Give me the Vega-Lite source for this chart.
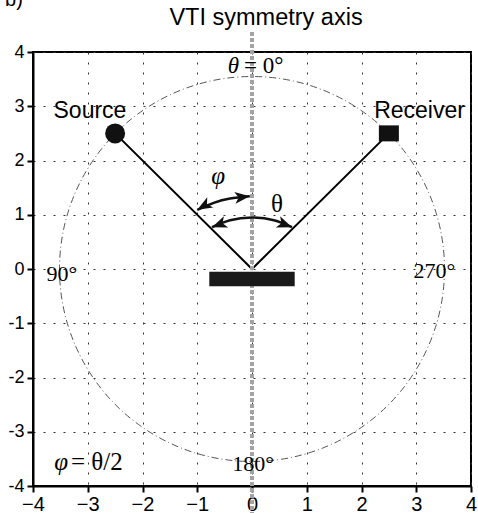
{
  "$schema": "https://vega.github.io/schema/vega-lite/v6.json",
  "width": 438,
  "height": 434,
  "autosize": {"type": "none"},
  "padding": {"left": 33, "top": 52, "right": 7, "bottom": 27},
  "background": "white",
  "config": {
    "view": {"stroke": "black", "strokeWidth": 2},
    "axis": {
      "title": null,
      "domainColor": "black",
      "domainWidth": 2,
      "tickColor": "black",
      "tickWidth": 2,
      "tickSize": 6,
      "labelColor": "black",
      "labelFont": "Liberation Sans",
      "labelFlush": false,
      "labelOverlap": false,
      "labelBound": false,
      "grid": true,
      "gridColor": "#333333",
      "gridWidth": 1,
      "gridDash": [2, 8],
      "gridOpacity": 1
    }
  },
  "datasets": {
    "origin": [{"x": 0, "y": 0}],
    "rays": [
      {"x": -2.5, "y": 2.5},
      {"x": 0, "y": 0},
      {"x": 2.5, "y": 2.5}
    ],
    "symmetry": [
      {"x": 0, "y": 4.37},
      {"x": 0, "y": -4.6}
    ],
    "source": [{"x": -2.5, "y": 2.5}],
    "receiver": [{"x": 2.5, "y": 2.5}],
    "reflector": [{"x": -0.78, "x2": 0.78, "y": -0.05, "y2": -0.32}],
    "phiArc": [
      {"x": -1.0, "y": 1.09},
      {"x": -0.7, "y": 1.22},
      {"x": -0.4, "y": 1.3},
      {"x": -0.04, "y": 1.34}
    ],
    "thetaArc": [
      {"x": -0.73, "y": 0.77},
      {"x": -0.4, "y": 0.9},
      {"x": 0, "y": 0.95},
      {"x": 0.4, "y": 0.9},
      {"x": 0.73, "y": 0.77}
    ]
  },
  "encoding": {
    "x": {
      "field": "x",
      "type": "quantitative",
      "scale": {"domain": [-4, 4], "nice": false, "zero": false},
      "axis": {"values": [-4, -3, -2, -1, 0, 1, 2, 3, 4], "labelFontSize": 20, "labelPadding": 2}
    },
    "y": {
      "field": "y",
      "type": "quantitative",
      "scale": {"domain": [-4, 4], "nice": false, "zero": false},
      "axis": {
        "values": [-4, -3, -2, -1, 0, 1, 2, 3, 4],
        "labelFontSize": 18,
        "labelPadding": 3,
        "labelExpr": "replace(datum.label, '\u2212', '-')"
      }
    }
  },
  "layer": [
    {
      "data": {"name": "origin"},
      "mark": {"type": "point", "shape": "circle", "size": 148225, "filled": false, "stroke": "#555555", "strokeWidth": 1, "strokeDash": [7, 3, 1, 3], "opacity": 1}
    },
    {
      "data": {"name": "rays"},
      "mark": {"type": "line", "color": "black", "strokeWidth": 2}
    },
    {
      "data": {"name": "symmetry"},
      "mark": {"type": "line", "color": "#a3a3a3", "strokeWidth": 4, "strokeDash": [4, 2], "strokeCap": "butt"}
    },
    {
      "data": {"name": "reflector"},
      "mark": {"type": "rect", "color": "#1a1a1a"},
      "encoding": {"x2": {"field": "x2"}, "y2": {"field": "y2"}}
    },
    {
      "data": {"name": "source"},
      "mark": {"type": "point", "shape": "circle", "size": 400, "filled": true, "color": "#111111", "opacity": 1}
    },
    {
      "data": {"name": "receiver"},
      "mark": {"type": "point", "shape": "M-1,-0.8H1V0.8H-1Z", "size": 400, "filled": true, "color": "#111111", "opacity": 1}
    },
    {
      "data": {"name": "phiArc"},
      "mark": {"type": "line", "interpolate": "natural", "color": "#111111", "strokeWidth": 2.5}
    },
    {
      "data": {"name": "thetaArc"},
      "mark": {"type": "line", "interpolate": "natural", "color": "#111111", "strokeWidth": 2.5}
    },
    {
      "data": {"values": [{"x": -1.0, "y": 1.09}]},
      "mark": {"type": "point", "shape": "M0,0L0.8,2L0,1.5L-0.8,2Z", "size": 225, "filled": true, "color": "#111111", "opacity": 1, "angle": 240}
    },
    {
      "data": {"values": [{"x": -0.04, "y": 1.34}]},
      "mark": {"type": "point", "shape": "M0,0L0.8,2L0,1.5L-0.8,2Z", "size": 225, "filled": true, "color": "#111111", "opacity": 1, "angle": 84}
    },
    {
      "data": {"values": [{"x": -0.73, "y": 0.77}]},
      "mark": {"type": "point", "shape": "M0,0L0.8,2L0,1.5L-0.8,2Z", "size": 225, "filled": true, "color": "#111111", "opacity": 1, "angle": 249}
    },
    {
      "data": {"values": [{"x": 0.73, "y": 0.77}]},
      "mark": {"type": "point", "shape": "M0,0L0.8,2L0,1.5L-0.8,2Z", "size": 225, "filled": true, "color": "#111111", "opacity": 1, "angle": 111}
    },
    {
      "data": {"values": [{"x": 0.256, "y": 4.5, "label": "VTI symmetry axis"}]},
      "mark": {"type": "text", "font": "Liberation Sans", "fontSize": 23.5, "align": "center", "baseline": "alphabetic", "color": "black"},
      "encoding": {"text": {"field": "label"}}
    },
    {
      "data": {"values": [{"x": -4.51, "y": 4.84, "label": "b)"}]},
      "mark": {"type": "text", "font": "Liberation Sans", "fontSize": 20, "align": "left", "baseline": "alphabetic", "color": "black"},
      "encoding": {"text": {"field": "label"}}
    },
    {
      "data": {"values": [
        {"x": -2.96, "y": 2.78, "label": "Source"},
        {"x": 3.06, "y": 2.78, "label": "Receiver"}
      ]},
      "mark": {"type": "text", "font": "Liberation Sans", "fontSize": 23, "align": "center", "baseline": "alphabetic", "color": "black"},
      "encoding": {"text": {"field": "label"}}
    },
    {
      "data": {"values": [{"x": -0.237, "y": 3.613, "label": "θ"}]},
      "mark": {"type": "text", "font": "Liberation Serif", "fontStyle": "italic", "fontSize": 23, "align": "right", "baseline": "alphabetic", "color": "black"},
      "encoding": {"text": {"field": "label"}}
    },
    {
      "data": {"values": [{"x": -0.146, "y": 3.613, "label": "= 0°"}]},
      "mark": {"type": "text", "font": "Liberation Serif", "fontSize": 23, "align": "left", "baseline": "alphabetic", "color": "black"},
      "encoding": {"text": {"field": "label"}}
    },
    {
      "data": {"values": [
        {"x": -3.47, "y": -0.22, "label": "90°"},
        {"x": 3.33, "y": -0.17, "label": "270°"},
        {"x": 0.02, "y": -3.72, "label": "180°"}
      ]},
      "mark": {"type": "text", "font": "Liberation Serif", "fontSize": 22, "align": "center", "baseline": "alphabetic", "color": "black"},
      "encoding": {"text": {"field": "label"}}
    },
    {
      "data": {"values": [{"x": -3.36, "y": -3.705, "label": "φ"}]},
      "mark": {"type": "text", "font": "Liberation Serif", "fontStyle": "italic", "fontSize": 25, "align": "right", "baseline": "alphabetic", "color": "black"},
      "encoding": {"text": {"field": "label"}}
    },
    {
      "data": {"values": [{"x": -3.306, "y": -3.705, "label": "= θ/2"}]},
      "mark": {"type": "text", "font": "Liberation Serif", "fontSize": 25, "align": "left", "baseline": "alphabetic", "color": "black"},
      "encoding": {"text": {"field": "label"}}
    },
    {
      "data": {"values": [{"x": -0.62, "y": 1.567, "label": "φ"}]},
      "mark": {"type": "text", "font": "Liberation Serif", "fontStyle": "italic", "fontSize": 25, "align": "center", "baseline": "alphabetic", "color": "black"},
      "encoding": {"text": {"field": "label"}}
    },
    {
      "data": {"values": [{"x": 0.457, "y": 1.05, "label": "θ"}]},
      "mark": {"type": "text", "font": "Liberation Serif", "fontSize": 25, "align": "center", "baseline": "alphabetic", "color": "black"},
      "encoding": {"text": {"field": "label"}}
    }
  ]
}
